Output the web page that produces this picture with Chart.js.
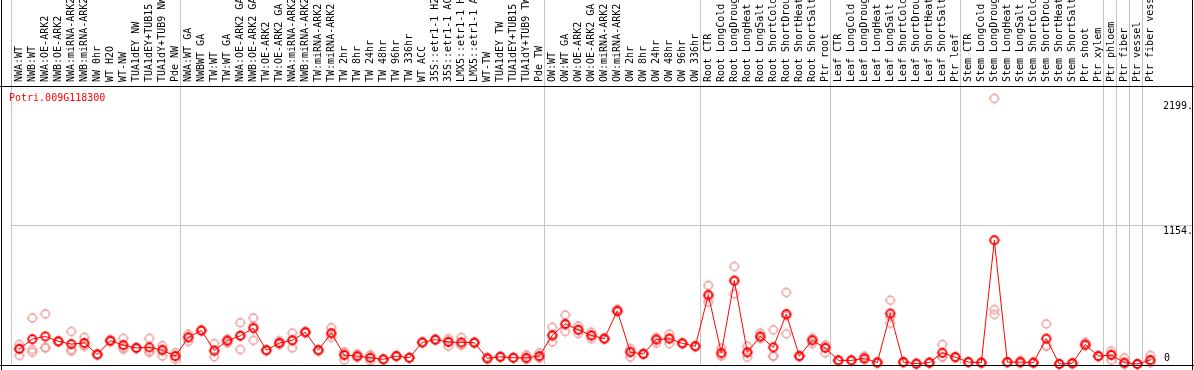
<!DOCTYPE html>
<html>
<head>
<meta charset="utf-8">
<script src="https://cdn.jsdelivr.net/npm/chart.js@4.4.1/dist/chart.umd.min.js"></script>
<style>
  html, body { margin: 0; padding: 0; background: #fff; }
  canvas { display: block; }
</style>
</head>
<body>
<canvas id="expr" width="1194" height="370"></canvas>
<script>
const geneId = 'Potri.009G118300';

const samples = [
  'NWA:WT', 'NWB:WT', 'NWA:OE-ARK2', 'NWB:OE-ARK2', 'NWA:miRNA-ARK2', 'NWB:miRNA-ARK2', 'NW 0hr',
  'WT H2O', 'WT-NW', 'TUA1dEY NW', 'TUA1dEY+TUB15 NW', 'TUA1dY+TUB9 NW', 'Pde NW',
  'NWA:WT GA', 'NWBWT GA', 'TW:WT', 'TW:WT GA', 'NWA:OE-ARK2 GA', 'NWB:OE-ARK2 GA', 'TW:OE-ARK2',
  'TW:OE-ARK2 GA', 'NWA:miRNA-ARK2', 'NWB:miRNA-ARK2', 'TW:miRNA-ARK2', 'TW:miRNA-ARK2',
  'TW 2hr', 'TW 8hr', 'TW 24hr', 'TW 48hr', 'TW 96hr', 'TW 336hr', 'WT ACC',
  '35S::etr1-1 H2O', '35S::etr1-1 ACC', 'LMX5::etr1-1 H2O', 'LMX5::etr1-1 ACC', 'WT-TW',
  'TUA1dEY TW', 'TUA1dEY+TUB15 TW', 'TUA1dY+TUB9 TW', 'Pde TW',
  'OW:WT', 'OW:WT GA', 'OW:OE-ARK2', 'OW:OE-ARK2 GA', 'OW:miRNA-ARK2', 'OW:miRNA-ARK2',
  'OW 2hr', 'OW 8hr', 'OW 24hr', 'OW 48hr', 'OW 96hr', 'OW 336hr',
  'Root CTR', 'Root LongCold', 'Root LongDrought', 'Root LongHeat', 'Root LongSalt',
  'Root ShortCold', 'Root ShortDrought', 'Root ShortHeat', 'Root ShortSalt', 'Ptr root',
  'Leaf CTR', 'Leaf LongCold', 'Leaf LongDrought', 'Leaf LongHeat', 'Leaf LongSalt',
  'Leaf ShortCold', 'Leaf ShortDrought', 'Leaf ShortHeat', 'Leaf ShortSalt', 'Ptr leaf',
  'Stem CTR', 'Stem LongCold', 'Stem LongDrought', 'Stem LongHeat', 'Stem LongSalt',
  'Stem ShortCold', 'Stem ShortDrought', 'Stem ShortHeat', 'Stem ShortSalt', 'Ptr shoot',
  'Ptr xylem', 'Ptr phloem', 'Ptr fiber', 'Ptr vessel', 'Ptr fiber vessel'
];

// mean of the replicates (red line)
const meanExpr = [
  125, 207, 230, 189, 166, 175, 80, 194, 158, 134, 139, 115, 66,
  221, 279, 112, 194, 235, 298, 115, 175, 197, 265, 115, 257, 74, 66, 52, 39, 66, 52,
  180, 203, 183, 180, 178, 47, 60, 52, 52, 66,
  240, 334, 285, 238, 211, 443, 98, 84, 203, 211, 172, 148,
  576, 93, 695, 98, 230, 139, 416, 66, 197, 134,
  30, 30, 47, 12, 421, 16, 3, 11, 93, 57,
  16, 11, 1031, 16, 16, 11, 211, 0, 6, 162, 66, 74, 11, 0, 33
];

// single replicates (pale circles)
const rep1 = [
  162, 383, 418, 185, 271, 221, 78, 203, 213, 130, 213, 153, 93,
  248, 275, 170, 175, 344, 383, 112, 194, 257, 260, 110, 303, 101, 84, 76, 36, 62, 50,
  176, 199, 211, 221, 174, 57, 57, 50, 76, 93,
  306, 408, 317, 265, 207, 457, 129, 80, 175, 248, 168, 144,
  654, 134, 812, 148, 257, 285, 596, 62, 211, 156,
  28, 28, 66, 10, 531, 14, 2, 9, 162, 54,
  14, 9, 2212, 14, 30, 9, 334, 0, 4, 180, 62, 107, 52, 0, 71
];
const rep2 = [
  71, 121, 139, 192, 107, 148, 82, 185, 137, 138, 107, 66, 66,
  189, 283, 60, 200, 121, 197, 118, 170, 134, 270, 120, 221, 33, 60, 25, 42, 70, 54,
  184, 207, 148, 156, 182, 40, 62, 54, 40, 52,
  183, 271, 254, 211, 215, 436, 57, 88, 215, 170, 176, 152,
  517, 66, 585, 90, 213, 66, 252, 70, 170, 93,
  32, 32, 36, 14, 339, 18, 4, 13, 60, 60,
  18, 13, 453, 18, 10, 13, 148, 0, 8, 153, 70, 33, 0, 0, 16
];
const rep3 = [
  131, 98, 133, 190, 120, 156, 80, 194, 124, 134, 97, 126, 39,
  226, 279, 106, 207, 240, 314, 115, 161, 200, 265, 115, 247, 88, 54, 55, 39, 66, 52,
  180, 203, 190, 163, 178, 44, 61, 52, 40, 53,
  231, 323, 284, 238, 211, 436, 108, 84, 219, 215, 172, 148,
  557, 79, 688, 56, 220, 66, 400, 66, 210, 153,
  30, 30, 39, 12, 393, 16, 3, 11, 57, 57,
  16, 11, 412, 16, 8, 11, 151, 0, 6, 153, 66, 82, 0, 0, 12
];

// sample index where each block starts (gray separators), last one closes the plot
const groupStarts = [0, 13, 41, 53, 63, 73, 84, 85, 86, 87, 88];
const yTicks = [0, 1154, 2199];
const yMax = 2316;

const MONO = '"DejaVu Sans Mono", monospace';
const GRID = '#c4c4c4';

// ring with four short spikes, like the old bitmap marker
function ringMarker(color, lw) {
  const c = document.createElement('canvas');
  c.width = 14;
  c.height = 14;
  const g = c.getContext('2d');
  g.strokeStyle = color;
  g.lineWidth = lw;
  g.beginPath();
  g.arc(7, 7, 4, 0, Math.PI * 2);
  g.stroke();
  g.lineWidth = 1;
  g.beginPath();
  g.moveTo(7, 1.5); g.lineTo(7, 3);
  g.moveTo(7, 11); g.lineTo(7, 12.5);
  g.moveTo(1.5, 7); g.lineTo(3, 7);
  g.moveTo(11, 7); g.lineTo(12.5, 7);
  g.stroke();
  return c;
}

const redRing = ringMarker('#ff0000', 1.8);
const pinkRing = ringMarker('#ec9a9a', 1.4);

const toXY = arr => arr.map((v, i) => ({ x: i, y: v }));

const repSet = arr => ({
  data: toXY(arr),
  showLine: false,
  pointStyle: pinkRing,
  pointRadius: 5,
  clip: false
});

const framePlugin = {
  id: 'frame',
  afterDraw(chart) {
    const { ctx, chartArea: a, scales } = chart;
    const w = chart.width, h = chart.height;
    ctx.save();
    ctx.strokeStyle = '#000';
    ctx.lineWidth = 1;
    ctx.beginPath();
    ctx.moveTo(0, a.top + 0.5); ctx.lineTo(w, a.top + 0.5);
    ctx.moveTo(1.5, 0); ctx.lineTo(1.5, h);
    ctx.moveTo(w - 1.5, 0); ctx.lineTo(w - 1.5, h);
    ctx.moveTo(0, a.bottom + 1.5); ctx.lineTo(w, a.bottom + 1.5);
    ctx.stroke();

    ctx.font = '10px ' + MONO;
    ctx.textAlign = 'left';
    ctx.textBaseline = 'alphabetic';
    ctx.fillStyle = '#000';
    scales.y.ticks.forEach(t => {
      const py = scales.y.getPixelForValue(t.value);
      if (t.value === 0) {
        ctx.fillText('0', a.right + 9, py - 3);
      } else {
        ctx.fillText(t.value + '.', a.right + 8, py + 9);
      }
    });

    ctx.fillStyle = '#ff0000';
    ctx.fillText(geneId, a.left - 2, a.top + 15);
    ctx.restore();
  }
};

new Chart(document.getElementById('expr'), {
  type: 'line',
  data: {
    datasets: [
      {
        data: toXY(meanExpr),
        borderColor: '#ff0000',
        borderWidth: 1,
        tension: 0,
        fill: false,
        pointStyle: redRing,
        pointRadius: 5,
        clip: false
      },
      repSet(rep1),
      repSet(rep2),
      repSet(rep3)
    ]
  },
  options: {
    responsive: false,
    animation: false,
    events: [],
    layout: { padding: { left: 11, right: 0, top: 0, bottom: 2 } },
    plugins: { legend: { display: false }, tooltip: { enabled: false } },
    scales: {
      x: {
        type: 'linear',
        display: false,
        min: -0.64,
        max: samples.length - 0.64
      },
      xl: {
        type: 'category',
        labels: samples,
        position: 'top',
        offset: true,
        grid: {
          offset: true,
          drawOnChartArea: true,
          tickLength: 86,
          color: ctx => groupStarts.includes(ctx.index) ? GRID : 'rgba(0,0,0,0)'
        },
        border: { display: false },
        ticks: {
          autoSkip: false,
          minRotation: 90,
          maxRotation: 90,
          padding: -82,
          labelOffset: 14,
          color: '#000',
          font: { family: MONO, size: 10 }
        },
        afterFit: s => { s.height = 86; }
      },
      y: {
        type: 'linear',
        position: 'right',
        min: 0,
        max: yMax,
        afterBuildTicks: s => { s.ticks = yTicks.map(v => ({ value: v })); },
        grid: {
          tickLength: 39,
          color: ctx => (ctx.tick && ctx.tick.value === yTicks[1]) ? GRID : 'rgba(0,0,0,0)'
        },
        border: { display: false },
        ticks: { display: false },
        afterFit: s => { s.width = 39; }
      }
    }
  },
  plugins: [framePlugin]
});
</script>
</body>
</html>
